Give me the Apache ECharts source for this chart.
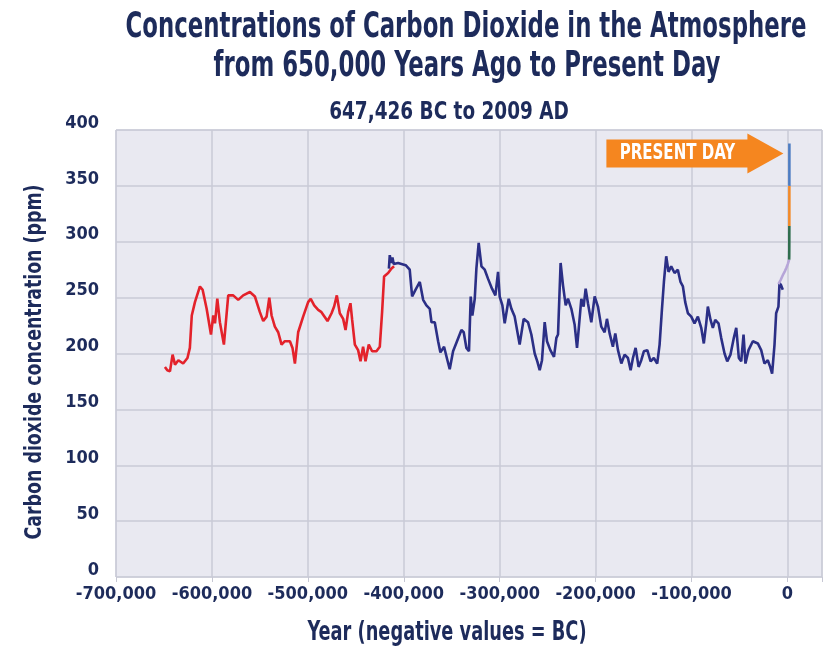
<!DOCTYPE html>
<html>
<head>
<meta charset="utf-8">
<script src="https://cdn.jsdelivr.net/npm/echarts@6/dist/echarts.min.js"></script>
<style>
html,body{margin:0;padding:0;background:#fff;}
#chart{width:825px;height:647px;}
</style>
</head>
<body>
<div id="chart"></div>
<script>
// ---- data (year, ppm) ----
var titleLine1 = 'Concentrations of Carbon Dioxide in the Atmosphere';
var titleLine2 = 'from 650,000 Years Ago to Present Day';
var subtitleText = '647,426 BC to 2009 AD';
var xAxisName = 'Year (negative values = BC)';
var yAxisName = 'Carbon dioxide concentration (ppm)';
var arrowLabel = 'PRESENT DAY';
var yTicks = [0, 50, 100, 150, 200, 250, 300, 350, 400];
var xTicks = [-700000, -600000, -500000, -400000, -300000, -200000, -100000, 0];

var redData = [[-649000,188],[-646500,185],[-643750,184],[-641000,199],[-638500,190],[-635000,194],[-630000,191],[-625500,196],[-623000,205],[-621000,234],[-617700,246],[-612500,260],[-609700,257],[-605500,240],[-601000,217],[-598600,234],[-596800,227],[-594400,249],[-591700,228],[-587500,208],[-583000,252],[-577800,252],[-572600,248],[-567400,252],[-560400,255],[-555200,251],[-550000,237],[-546500,229],[-543000,233],[-540200,250],[-537800,234],[-534400,224],[-530900,219],[-527400,208],[-524000,211],[-518700,211],[-516000,205],[-513500,191],[-510100,219],[-504900,233],[-499700,246],[-497000,249],[-493400,243],[-489200,239],[-485800,237],[-479500,229],[-475300,236],[-472600,242],[-469800,252],[-466700,236],[-463200,231],[-460700,221],[-458000,237],[-455600,245],[-453800,230],[-451000,208],[-447600,203],[-445100,193],[-442400,206],[-439900,193],[-436500,208],[-433000,202],[-428500,202],[-425000,206],[-422600,237],[-420500,269],[-416300,272],[-412800,276],[-410100,278]];

var blueData = [[-415500,276],[-414600,288],[-413200,281],[-411800,286],[-410500,280],[-405900,281],[-398000,279],[-393800,275],[-391300,251],[-387800,257],[-383300,264],[-379800,248],[-376400,243],[-372900,240],[-371100,228],[-367700,228],[-364200,211],[-361800,201],[-358000,206],[-354500,194],[-352100,186],[-348600,202],[-344500,211],[-339900,221],[-337500,219],[-334700,205],[-332000,202],[-330200,251],[-328500,234],[-326000,249],[-324300,276],[-321900,299],[-319000,278],[-315600,275],[-312200,267],[-308000,258],[-304500,252],[-301700,273],[-300000,251],[-297200,243],[-294800,227],[-290600,249],[-287800,240],[-284400,233],[-279200,208],[-275000,231],[-270500,228],[-267000,217],[-263500,200],[-260800,193],[-258300,185],[-255900,194],[-253100,228],[-250700,211],[-247200,203],[-243400,197],[-240900,214],[-239200,217],[-236500,281],[-234000,261],[-231200,243],[-228800,249],[-225300,240],[-221900,226],[-219400,205],[-217400,224],[-214900,249],[-212500,242],[-210400,258],[-208000,245],[-204500,228],[-201000,251],[-197600,242],[-194100,224],[-190600,219],[-188200,231],[-185400,218],[-182000,206],[-179500,218],[-176700,203],[-173200,191],[-169800,199],[-166300,196],[-163500,185],[-161100,196],[-158300,205],[-155200,188],[-152400,194],[-149700,202],[-146100,203],[-142700,193],[-139300,196],[-135800,191],[-133300,208],[-130900,239],[-128800,264],[-126400,287],[-124000,273],[-121200,278],[-117700,272],[-114300,275],[-111500,264],[-109000,260],[-106600,246],[-103800,236],[-100300,233],[-96900,227],[-93400,233],[-89900,223],[-87200,209],[-84700,227],[-83000,242],[-80200,230],[-77800,223],[-75300,230],[-71900,227],[-69100,214],[-65600,200],[-62800,193],[-59400,199],[-55900,214],[-53400,223],[-50700,196],[-48200,193],[-45800,217],[-43800,191],[-40600,203],[-36100,211],[-30900,209],[-27400,203],[-24000,191],[-20500,194],[-18000,188],[-16000,182],[-13500,208],[-11800,236],[-9400,242],[-8300,263],[-6600,261],[-4900,257]];

var holoceneData = [[-9400,262],[-7000,266],[-4900,270],[-2500,274],[-1000,277],[300,280],[1750,284]];
var greenData = [[1750,284],[1850,288],[1900,296],[1950,311],[1958,314]];
var orangeData = [[1958,314],[1975,331],[1990,350]];
var modernData = [[1990,350],[2000,369],[2009,388]];

var NAVY = '#1d2b5b';
var FONT = '"Liberation Sans Narrow", "DejaVu Sans Condensed", "DejaVu Sans", sans-serif';

var chart = echarts.init(document.getElementById('chart'));

function line(name, data, color, w) {
  return { name: name, type: 'line', data: data, symbol: 'none', smooth: false,
    lineStyle: { color: color, width: w }, z: 3, animation: false };
}

var option = {
  backgroundColor: '#ffffff',
  animation: false,
  grid: { left: 116, right: 1, top: 130, bottom: 70, show: true,
    backgroundColor: '#e9e9f1', borderColor: '#cfd0da', borderWidth: 1 },
  xAxis: {
    type: 'value', min: xTicks[0], max: 36000, interval: 100000,
    axisLine: { show: false },
    axisTick: { show: true, length: 5, lineStyle: { color: '#c6c7d3' } },
    axisLabel: { color: NAVY, fontFamily: FONT, fontWeight: 'bold', fontSize: 18, margin: 8,
      formatter: function (v) { return xTicks.indexOf(v) >= 0 ? echarts.format.addCommas(v) : ''; } },
    splitLine: { show: true, lineStyle: { color: '#c9cad6', width: 1.5 } }
  },
  yAxis: {
    type: 'value', min: yTicks[0], max: yTicks[yTicks.length - 1], interval: 50,
    axisLine: { show: false }, axisTick: { show: false },
    axisLabel: { color: NAVY, fontFamily: FONT, fontWeight: 'bold', fontSize: 18, margin: 17,
      verticalAlign: 'bottom', lineHeight: 14 },
    splitLine: { show: true, lineStyle: { color: '#c9cad6', width: 1.5 } }
  },
  series: [
    line('red', redData, '#e3222b', 2.6),
    line('blue', blueData, '#2b2f86', 2.6),
    line('holocene', holoceneData, '#b6a5d8', 2.6),
    line('green', greenData, '#2f6d4e', 2.6),
    line('orange', orangeData, '#f28a2a', 2.6),
    line('modern', modernData, '#4d7cc2', 2.6)
  ]
};
chart.setOption(option);

function label(text, x, y, size, sx, color, rot) {
  return { type: 'text', z: 11, x: x, y: y, scaleX: sx, scaleY: 1, rotation: rot || 0,
    style: { text: text, fill: color, font: 'bold ' + size + 'px ' + FONT,
      textAlign: 'center', textVerticalAlign: 'middle' } };
}

// Present-day arrow annotation anchored to the latest data point
var last = modernData[modernData.length - 1];
var p = chart.convertToPixel({ gridIndex: 0 }, last);
var tx = p[0] - 6, ty = p[1] + 10;
chart.setOption({
  graphic: [
    label(titleLine1, 466, 28, 36, 0.705, NAVY),
    label(titleLine2, 467, 67, 36, 0.705, NAVY),
    label(subtitleText, 449, 112, 25, 0.82, NAVY),
    label(xAxisName, 447, 633, 26, 0.76, NAVY),
    label(yAxisName, 35, 362, 23, 0.84, NAVY, Math.PI / 2),
    { type: 'polygon', z: 10,
      shape: { points: [[tx - 177, ty - 14], [tx - 36, ty - 14], [tx - 36, ty - 20], [tx, ty],
                        [tx - 36, ty + 20], [tx - 36, ty + 14], [tx - 177, ty + 14]] },
      style: { fill: '#f5861f' } },
    label(arrowLabel, tx - 106, ty, 22, 0.76, '#ffffff')
  ]
});
</script>
</body>
</html>
